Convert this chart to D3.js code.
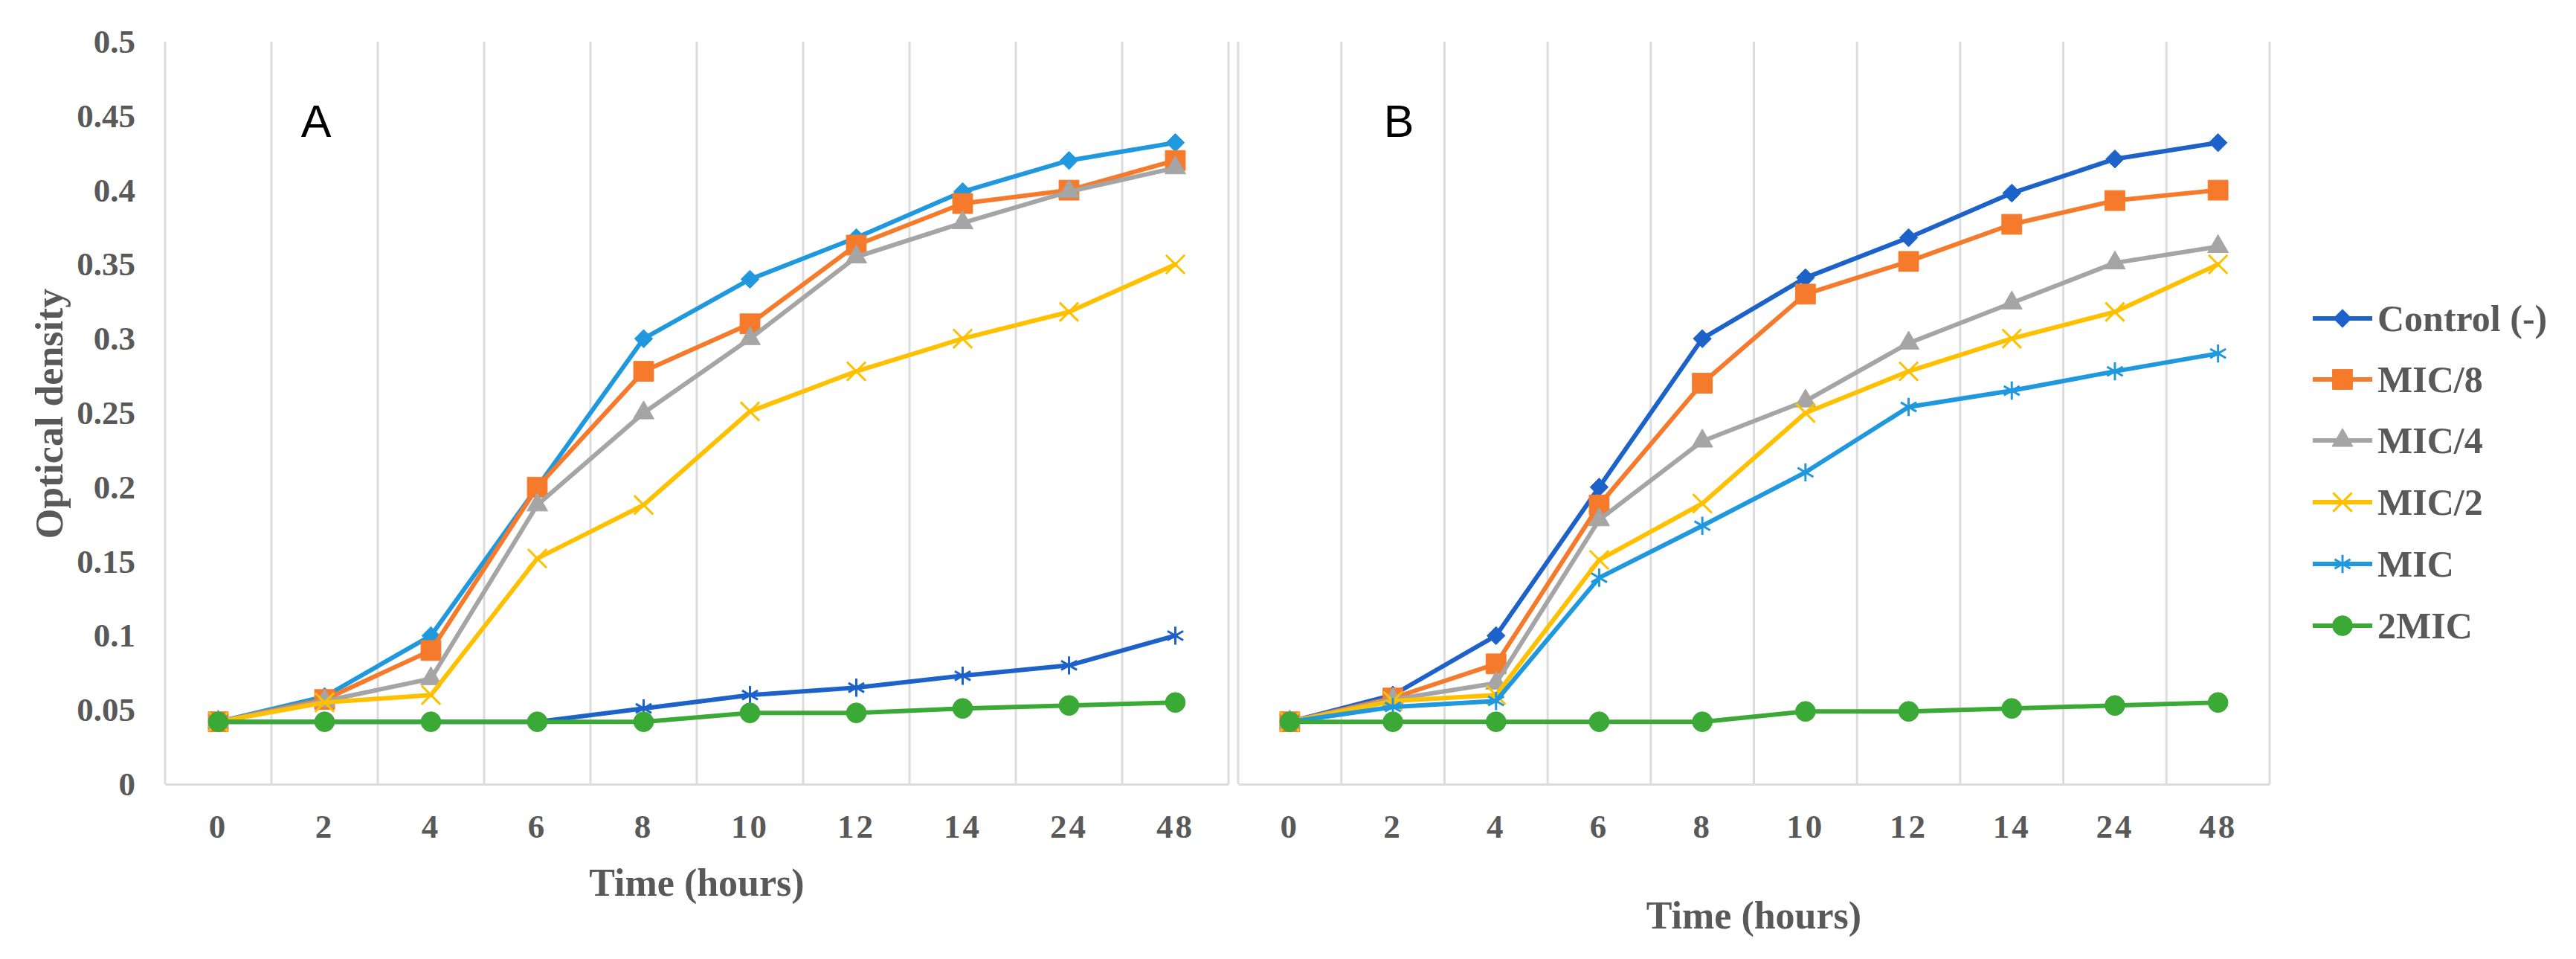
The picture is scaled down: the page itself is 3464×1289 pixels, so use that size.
<!DOCTYPE html>
<html>
<head>
<meta charset="utf-8">
<script src="https://cdn.jsdelivr.net/npm/d3@7"></script>
<style>
  html, body { margin: 0; padding: 0; background: #fff; }
  text { font-family: "Liberation Serif", "Times New Roman", serif; }
</style>
</head>
<body>
<div id="chart"></div>
<script>
const times = ["0", "2", "4", "6", "8", "10", "12", "14", "24", "48"];
const seriesNames = ["Control (-)", "MIC/8", "MIC/4", "MIC/2", "MIC", "2MIC"];
const yTicks = [0, 0.05, 0.1, 0.15, 0.2, 0.25, 0.3, 0.35, 0.4, 0.45, 0.5];

// panel A
const controlA = [0.042, 0.059, 0.100, 0.200, 0.300, 0.340, 0.368, 0.399, 0.420, 0.432];
const mic8A    = [0.042, 0.057, 0.090, 0.200, 0.278, 0.310, 0.363, 0.391, 0.400, 0.420];
const mic4A    = [0.042, 0.056, 0.071, 0.188, 0.250, 0.300, 0.355, 0.378, 0.399, 0.415];
const mic2A    = [0.042, 0.055, 0.060, 0.152, 0.188, 0.251, 0.278, 0.300, 0.318, 0.350];
const micA     = [0.042, 0.042, 0.042, 0.042, 0.051, 0.060, 0.065, 0.073, 0.080, 0.100];
const twoMicA  = [0.042, 0.042, 0.042, 0.042, 0.042, 0.048, 0.048, 0.051, 0.053, 0.055];

// panel B
const controlB = [0.042, 0.060, 0.100, 0.200, 0.300, 0.341, 0.368, 0.398, 0.421, 0.432];
const mic8B    = [0.042, 0.058, 0.081, 0.188, 0.270, 0.330, 0.352, 0.377, 0.393, 0.400];
const mic4B    = [0.042, 0.057, 0.068, 0.178, 0.231, 0.258, 0.297, 0.324, 0.351, 0.362];
const mic2B    = [0.042, 0.056, 0.060, 0.151, 0.189, 0.250, 0.278, 0.300, 0.318, 0.350];
const micB     = [0.042, 0.052, 0.056, 0.139, 0.174, 0.210, 0.254, 0.265, 0.278, 0.290];
const twoMicB  = [0.042, 0.042, 0.042, 0.042, 0.042, 0.049, 0.049, 0.051, 0.053, 0.055];

const darkBlue = "#1c62c8", lightBlue = "#1f98de", orange = "#f67a2b",
      gray = "#a5a5a5", yellow = "#ffc000", green = "#3aa935";
const textColor = "#595959", gridColor = "#dcdcdc";

const diamond = d3.symbolDiamond2 || d3.symbolDiamond;
const markers = [
  { type: diamond, size: 380, fill: true },
  { type: d3.symbolSquare, size: 720, fill: true },
  { type: d3.symbolTriangle, size: 340, fill: true },
  { type: d3.symbolX, size: 420, fill: false },
  { type: d3.symbolAsterisk, size: 420, fill: false },
  { type: d3.symbolCircle, size: 560, fill: true }
];

const panels = [
  { label: "A", range: [222, 1652], labelX: 425, titleY: 1186,
    series: [controlA, mic8A, mic4A, mic2A, micA, twoMicA],
    colors: [lightBlue, orange, gray, yellow, darkBlue, green] },
  { label: "B", range: [1665, 3052], labelX: 1881, titleY: 1230,
    series: [controlB, mic8B, mic4B, mic2B, micB, twoMicB],
    colors: [darkBlue, orange, gray, yellow, lightBlue, green] }
];
const legendColors = [darkBlue, orange, gray, yellow, lightBlue, green];

const width = 3464, height = 1289;
const svg = d3.select("#chart").append("svg")
  .attr("width", width).attr("height", height);

const y = d3.scaleLinear().domain([0, 0.5]).range([1054, 56]);

function drawMarker(g, i, color, cx, cy) {
  const m = markers[i];
  g.append("path")
    .attr("d", d3.symbol().type(m.type).size(m.size)())
    .attr("transform", `translate(${cx},${cy})`)
    .attr("fill", m.fill ? color : "none")
    .attr("stroke", color)
    .attr("stroke-width", m.fill ? 1 : 3);
}

panels.forEach((p, pi) => {
  const x = d3.scaleBand().domain(times).range(p.range);
  const g = svg.append("g");

  // vertical gridlines at category boundaries
  const edges = times.map(t => x(t)).concat([p.range[1]]);
  g.selectAll(".grid").data(edges).enter().append("line")
    .attr("x1", d => d).attr("x2", d => d)
    .attr("y1", y(0.5)).attr("y2", y(0))
    .attr("stroke", gridColor).attr("stroke-width", 3);

  // x axis
  const xAxis = g.append("g")
    .attr("transform", `translate(0,${y(0)})`)
    .call(d3.axisBottom(x).tickSize(0).tickPadding(40));
  xAxis.select(".domain").attr("stroke", gridColor).attr("stroke-width", 3);
  xAxis.selectAll("text")
    .attr("font-family", "Liberation Serif, serif")
    .attr("font-weight", "bold").attr("font-size", 45)
    .attr("letter-spacing", 3)
    .attr("fill", textColor);

  // y axis (panel A only)
  if (pi === 0) {
    const yAxis = g.append("g")
      .attr("transform", `translate(${p.range[0]},0)`)
      .call(d3.axisLeft(y).tickValues(yTicks).tickSize(0).tickPadding(40)
        .tickFormat(d => String(+d.toFixed(2))));
    yAxis.select(".domain").remove();
    yAxis.selectAll("text")
      .attr("font-family", "Liberation Serif, serif")
      .attr("font-weight", "bold").attr("font-size", 45)
      .attr("fill", textColor);

    svg.append("text")
      .attr("transform", "translate(66,556) rotate(-90)")
      .attr("text-anchor", "middle").attr("dominant-baseline", "central")
      .attr("font-weight", "bold").attr("font-size", 52)
      .attr("fill", textColor)
      .text("Optical density");
  }

  // x title
  svg.append("text")
    .attr("x", (p.range[0] + p.range[1]) / 2).attr("y", p.titleY)
    .attr("text-anchor", "middle").attr("dominant-baseline", "central")
    .attr("font-weight", "bold").attr("font-size", 52)
    .attr("fill", textColor)
    .text("Time (hours)");

  // panel letter
  svg.append("text")
    .attr("x", p.labelX).attr("y", 184)
    .attr("text-anchor", "middle")
    .style("font-family", "'Liberation Sans', Arial, sans-serif")
    .attr("font-size", 61).attr("fill", "#000")
    .text(p.label);

  const line = d3.line()
    .x((d, i) => x(times[i]) + x.bandwidth() / 2)
    .y(d => y(d));

  p.series.forEach((vals, si) => {
    const color = p.colors[si];
    const sg = g.append("g");
    sg.append("path")
      .datum(vals)
      .attr("d", line)
      .attr("fill", "none")
      .attr("stroke", color)
      .attr("stroke-width", 6)
      .attr("stroke-linejoin", "round")
      .attr("stroke-linecap", "round");
    vals.forEach((v, i) => {
      drawMarker(sg, si, color, x(times[i]) + x.bandwidth() / 2, y(v));
    });
  });
});

// legend
const legendRows = [428, 510, 592, 675, 758, 841];
seriesNames.forEach((name, i) => {
  const lg = svg.append("g");
  const cy = legendRows[i];
  lg.append("line")
    .attr("x1", 3110).attr("x2", 3190)
    .attr("y1", cy).attr("y2", cy)
    .attr("stroke", legendColors[i]).attr("stroke-width", 6);
  drawMarker(lg, i, legendColors[i], 3150, cy);
  lg.append("text")
    .attr("x", 3197).attr("y", cy)
    .attr("dominant-baseline", "central")
    .attr("font-weight", "bold").attr("font-size", 50)
    .attr("fill", textColor)
    .text(name);
});
</script>
</body>
</html>
